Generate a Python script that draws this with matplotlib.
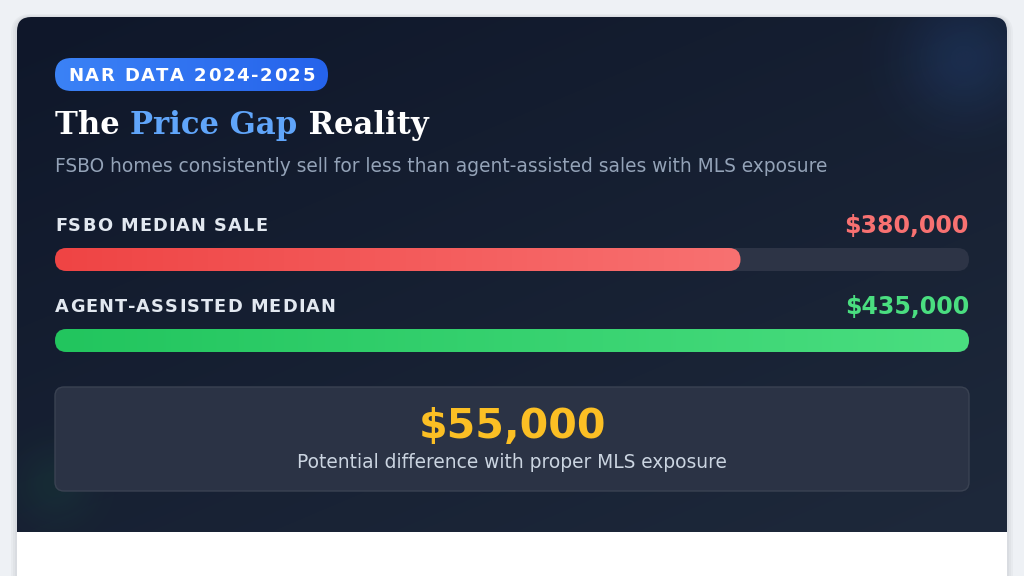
import numpy as np
import matplotlib
matplotlib.use('Agg')
import matplotlib.pyplot as plt
from matplotlib.patches import FancyBboxPatch
from matplotlib.colors import to_rgb
from matplotlib.font_manager import FontProperties, findfont
from matplotlib.ft2font import FT2Font

# Data
badge_text = "NAR DATA 2024-2025"
title_parts = ["The ", "Price Gap", " Reality"]
subtitle = "FSBO homes consistently sell for less than agent-assisted sales with MLS exposure"
labels = ["FSBO MEDIAN SALE", "AGENT-ASSISTED MEDIAN"]
values = [380000, 435000]
fill_pct = [75, 100]
bar_colors = [("#ef4444", "#f87171"), ("#22c55e", "#4ade80")]
value_colors = ["#f87171", "#4ade80"]
gap_note = "Potential difference with proper MLS exposure"

W, H = 1024, 576
fig = plt.figure(figsize=(W / 100, H / 100), dpi=100)
ax = fig.add_axes([0, 0, 1, 1])
fig.patch.set_facecolor("#eef1f5")
ax.set_facecolor("#eef1f5")


def grad_image(c1, c2, n=256):
    a, b = np.array(to_rgb(c1)), np.array(to_rgb(c2))
    t = np.linspace(0, 1, n)
    img = a[None, :] + (b - a)[None, :] * t[:, None]
    return img[None, :, :]


def rounded(x0, y0, x1, y1, r, **kw):
    p = FancyBboxPatch((x0, y0), x1 - x0, y1 - y0,
                       boxstyle=f"round,pad=0,rounding_size={r}", **kw)
    ax.add_patch(p)
    return p


def advances(s, fp):
    f = FT2Font(findfont(fp))
    f.set_size(fp.get_size_in_points(), 100)
    return [f.load_char(ord(c)).linearHoriAdvance / 65536 for c in s]


# letter-spaced text, drawn char by char
def spaced(x, y, s, size, spacing, color, ha="left", weight="bold"):
    fp = FontProperties(family="DejaVu Sans", weight=weight, size=size)
    adv = advances(s, fp)
    total = sum(adv) + spacing * (len(s) - 1)
    if ha == "right":
        x = x - total
    elif ha == "center":
        x = x - total / 2
    for c, a in zip(s, adv):
        ax.text(x, y, c, fontproperties=fp, color=color, va="baseline", ha="left", zorder=4)
        x += a + spacing


# card shadow + card body
for i in range(3):
    rounded(17 - 2 - i * 2, 17 - 1 - i, 1007 + 2 + i * 2, 640, 16 + i * 2,
            facecolor="#0f172a", alpha=0.03, edgecolor="none")
card = rounded(17, 17, 1007, 640, 14, facecolor="white", edgecolor="none")

# dark header gradient (diagonal)
yy, xx = np.mgrid[0:1:200j, 0:1:400j]
t = np.clip(0.55 * yy + 0.45 * xx, 0, 1)
c1, c2 = np.array(to_rgb("#0f172a")), np.array(to_rgb("#1e293b"))
dark = c1[None, None, :] + (c2 - c1)[None, None, :] * t[:, :, None]
im = ax.imshow(dark, extent=(17, 1007, 532, 17), origin="upper", aspect="auto",
               interpolation="bilinear", zorder=1)
im.set_clip_path(card)

# soft glows
gy, gx = np.mgrid[0:576:300j, 0:1024:500j]
g1 = np.zeros((300, 500, 4))
g1[..., :3] = to_rgb("#3b82f6")
g1[..., 3] = 0.14 * np.exp(-(np.hypot(gx - 965, gy - 58) / 60) ** 2)
g2 = np.zeros((300, 500, 4))
g2[..., :3] = to_rgb("#22c55e")
g2[..., 3] = 0.07 * np.exp(-(np.hypot(gx - 55, gy - 485) / 40) ** 2)
for g in (g1, g2):
    gi = ax.imshow(g, extent=(0, 1024, 576, 0), origin="upper", aspect="auto",
                   interpolation="bilinear", zorder=2)
    clip = FancyBboxPatch((17, 17), 990, 515, boxstyle="round,pad=0,rounding_size=14",
                          transform=ax.transData)
    gi.set_clip_path(clip)

# badge
badge = rounded(55, 58, 328, 91, 16.5, facecolor="none", edgecolor="none", zorder=3)
bi = ax.imshow(grad_image("#3b82f6", "#2563eb"), extent=(55, 328, 91, 58), origin="upper",
               aspect="auto", interpolation="bilinear", zorder=3)
bi.set_clip_path(badge)
spaced(191.5, 81, badge_text, 13.1, 1.6, "white", ha="center")

# title in three parts
fig.canvas.draw()
rend = fig.canvas.get_renderer()
x = 55
for part, col in zip(title_parts, ["white", "#60a5fa", "white"]):
    t = ax.text(x, 134, part, family="DejaVu Serif", weight="bold", fontsize=22.1,
                color=col, va="baseline", ha="left", zorder=4)
    x += t.get_window_extent(renderer=rend).width

ax.text(55, 172, subtitle, fontsize=13.4, color="#94a3b8", va="baseline", ha="left", zorder=4)

# bars
label_y = [231, 312]
val_y = [233, 314]
bar_top = [248, 329]
bar_h = 23
x0, x1 = 55, 969
for i in range(len(labels)):
    spaced(x0, label_y[i], labels[i], 12.8, 1.1, "#e2e8f0")
    ax.text(x1, val_y[i], f"${values[i]:,}", fontsize=17, weight="bold",
            color=value_colors[i], va="baseline", ha="right", zorder=4)
    rounded(x0, bar_top[i], x1, bar_top[i] + bar_h, bar_h / 2,
            facecolor="#2d3446", edgecolor="none", zorder=3)
    xe = x0 + (x1 - x0) * fill_pct[i] / 100
    clip = rounded(x0, bar_top[i], xe, bar_top[i] + bar_h, bar_h / 2,
                   facecolor="none", edgecolor="none", zorder=3)
    gi = ax.imshow(grad_image(*bar_colors[i]), extent=(x0, xe, bar_top[i] + bar_h, bar_top[i]),
                   origin="upper", aspect="auto", interpolation="bilinear", zorder=3.5)
    gi.set_clip_path(clip)

# summary box
rounded(55, 387, 969, 491, 9, facecolor="#2b3345", edgecolor="#3a4252", linewidth=1.0,
        zorder=3)
gap = values[1] - values[0]
ax.text(512, 438, f"${gap:,}", fontsize=29.6, weight="bold", color="#fbbf24",
        va="baseline", ha="center", zorder=4)
ax.text(512, 468, gap_note, fontsize=13.4, color="#cbd5e1", va="baseline",
        ha="center", zorder=4)

ax.set_xlim(0, W)
ax.set_ylim(H, 0)
ax.axis("off")
fig.savefig("out.png", dpi=100, facecolor=fig.get_facecolor())
